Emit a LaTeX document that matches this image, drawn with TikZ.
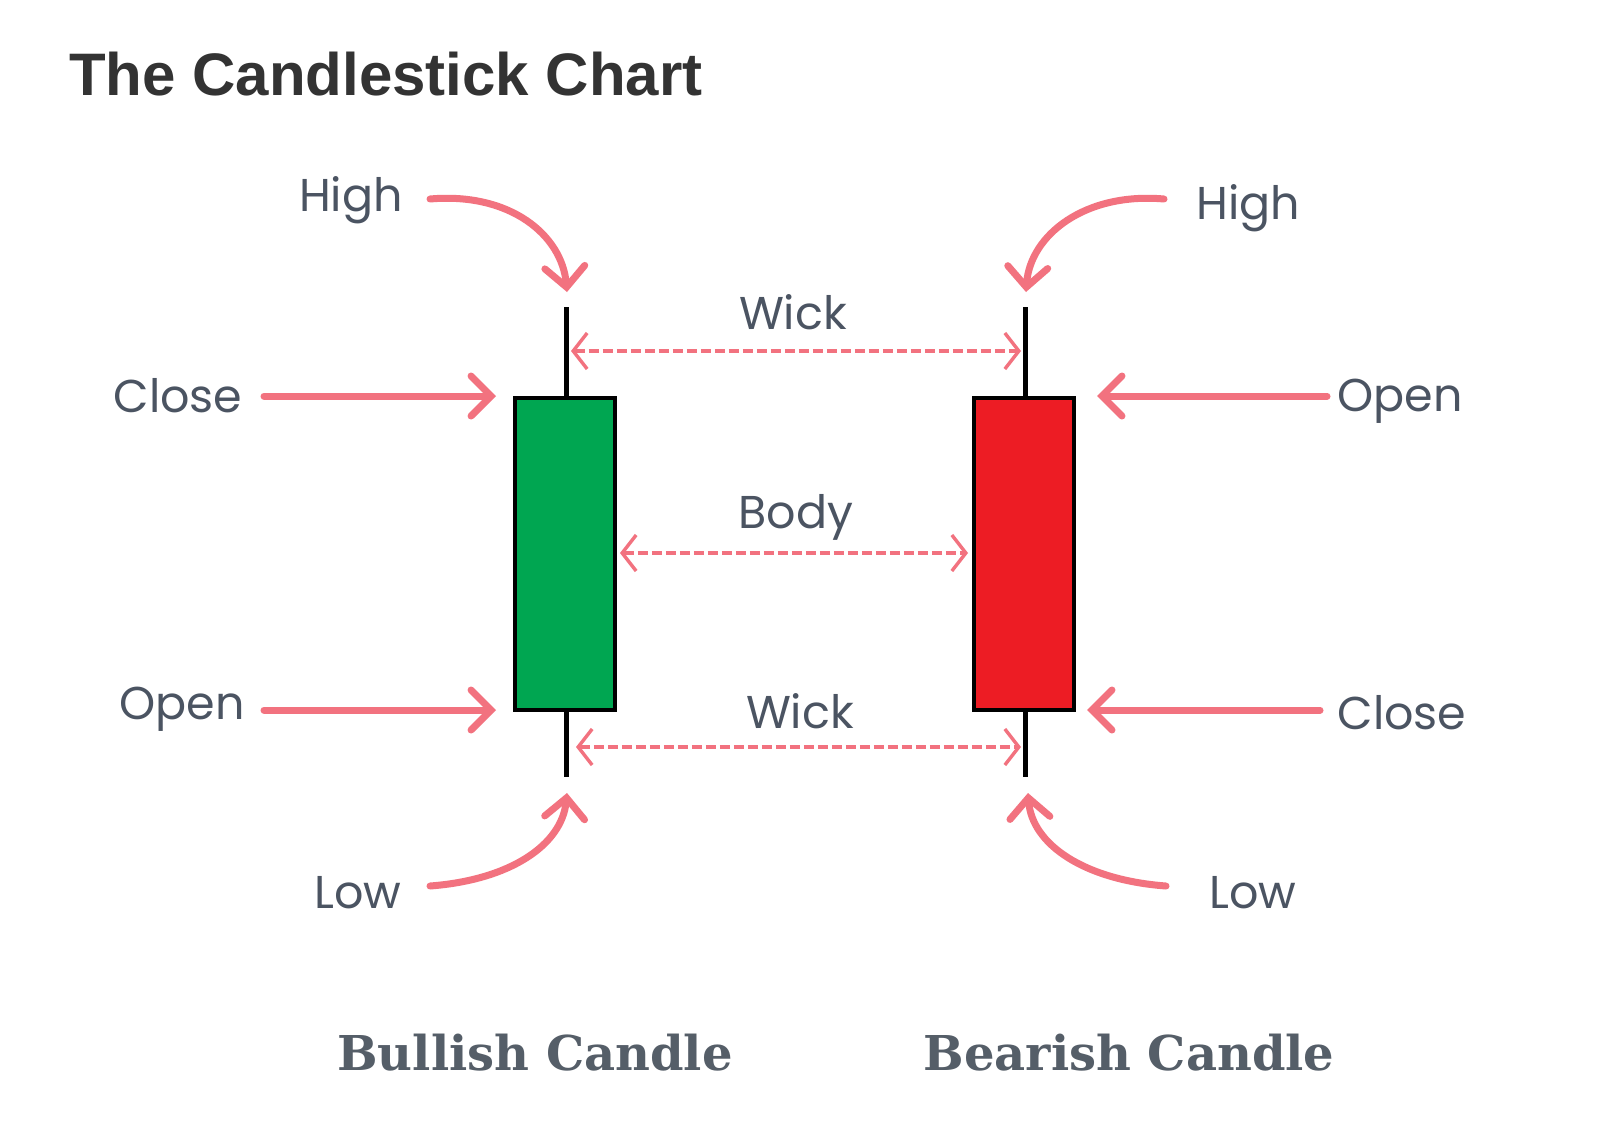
\documentclass[tikz,border=0pt]{standalone}
\usepackage{fontspec}
\setmainfont{Liberation Sans}
\newfontfamily\handfont{Poppins}
\newfontfamily\slabfont{DejaVu Serif}
\usetikzlibrary{arrows.meta}
\definecolor{salmon}{HTML}{F2727F}
\definecolor{handgray}{HTML}{4B5462}
\definecolor{capgray}{HTML}{555E68}
\definecolor{titlegray}{HTML}{333333}
\definecolor{bullgreen}{HTML}{00A651}
\definecolor{bearred}{HTML}{ED1C24}
\tikzset{
  handlabel/.style={font=\handfont\fontsize{46}{50}\selectfont, text=handgray, inner sep=0pt},
  caption/.style={font=\slabfont\bfseries\fontsize{48}{52}\selectfont, text=capgray, inner sep=0pt},
  pointer/.style={draw=salmon, line width=7pt, line cap=round,
    -{Straight Barb[length=20pt, width=40pt, line width=7pt, line cap=round]}},
  span/.style={draw=salmon, line width=3.4pt, dash pattern=on 10pt off 4pt,
    {Straight Barb[length=14pt, width=36pt, line width=3.4pt]}-{Straight Barb[length=14pt, width=36pt, line width=3.4pt]}},
  wick/.style={draw=black, line width=5pt},
  candlebody/.style={draw=black, line width=3.5pt}
}
\begin{document}
\begin{tikzpicture}[x=1pt,y=-1pt]
\useasboundingbox[fill=white] (0,0) rectangle (1604,1136);
% title
\node[anchor=base west, inner sep=0pt, text=titlegray, font=\bfseries\fontsize{60}{66}\selectfont] (title) at (69,95) {The Candlestick Chart};
% candles
\draw[wick] (566,307) coordinate (bwtop) -- (566,777) coordinate (bwbot);
\draw[candlebody, fill=bullgreen] (515,398) rectangle (615,710);
\draw[wick] (1025,307) coordinate (rwtop) -- (1025,777) coordinate (rwbot);
\draw[candlebody, fill=bearred] (974,398) rectangle (1074,710);
% labels
\node[handlabel] (highL) at (351,200) {High};
\node[handlabel] (highR) at (1248,208) {High};
\node[handlabel] (closeL) at (178,396) {Close};
\node[handlabel] (openL) at (182,709) {Open};
\node[handlabel] (openR) at (1400,401) {Open};
\node[handlabel] (closeR) at (1402,713) {Close};
\node[handlabel] (lowL) at (358,893) {Low};
\node[handlabel] (lowR) at (1253,893) {Low};
\node[handlabel] (wickT) at (793,312) {Wick};
\node[handlabel] (bodyM) at (796,517) {Body};
\node[handlabel] (wickB) at (800,711) {Wick};
% pointer endpoints
\coordinate (hLs) at (430,199); \coordinate (hLe) at (567,292);
\coordinate (hRs) at (1164,199); \coordinate (hRe) at (1026,292);
\coordinate (lLs) at (430,886); \coordinate (lLe) at (567,793);
\coordinate (lRs) at (1166,886); \coordinate (lRe) at (1028,793);
\coordinate (cLs) at (264,396); \coordinate (cLe) at (496,396);
\coordinate (oLs) at (264,710); \coordinate (oLe) at (496,710);
\coordinate (oRs) at (1327,396); \coordinate (oRe) at (1097,396);
\coordinate (cRs) at (1320,710); \coordinate (cRe) at (1087,710);
% pointers
\draw[pointer] (hLs) .. controls (510,192) and (562,235) .. (hLe);
\draw[pointer] (hRs) .. controls (1085,192) and (1030,235) .. (hRe);
\draw[pointer] (lLs) .. controls (510,880) and (562,845) .. (lLe);
\draw[pointer] (lRs) .. controls (1085,880) and (1032,845) .. (lRe);
\draw[pointer] (cLs) -- (cLe);
\draw[pointer] (oLs) -- (oLe);
\draw[pointer] (oRs) -- (oRe);
\draw[pointer] (cRs) -- (cRe);
% spans
\coordinate (sTa) at (571,351); \coordinate (sTb) at (1021,351);
\coordinate (sMa) at (620,553); \coordinate (sMb) at (968,553);
\coordinate (sBa) at (576,747); \coordinate (sBb) at (1021,747);
\draw[span] (sTa) -- (sTb);
\draw[span] (sMa) -- (sMb);
\draw[span] (sBa) -- (sBb);
% captions
\node[caption] (bull) at (535,1053) {Bullish Candle};
\node[caption] (bear) at (1129,1053) {Bearish Candle};
\end{tikzpicture}
\end{document}
